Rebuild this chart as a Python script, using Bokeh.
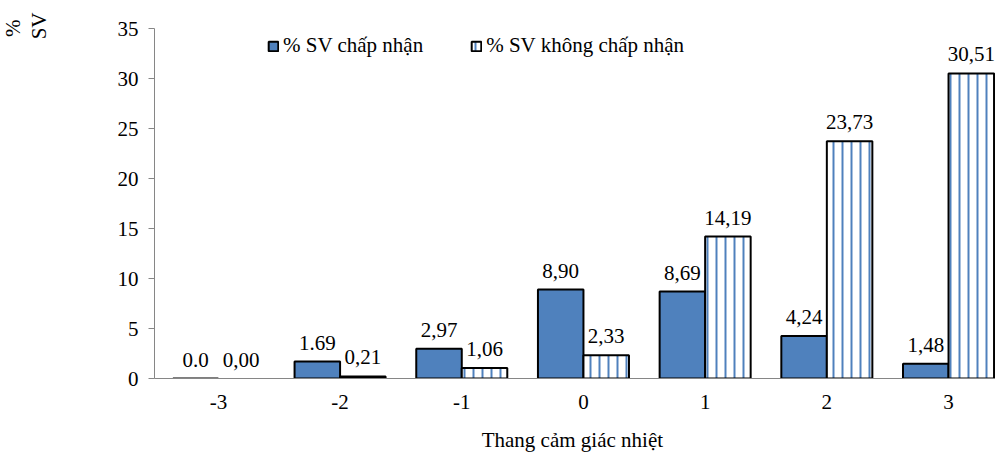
from bokeh.plotting import figure
from bokeh.models import (ColumnDataSource, FixedTicker, Range1d, Legend, LegendItem,
                          Title, CDSView, BooleanFilter)
from bokeh.transform import dodge
from bokeh.core.properties import value
from bokeh.embed import file_html
from bokeh.resources import INLINE

# ---- data ----
categories = [-3, -2, -1, 0, 1, 2, 3]
category_labels = ["-3", "-2", "-1", "0", "1", "2", "3"]
accepted = [0.0, 1.69, 2.97, 8.90, 8.69, 4.24, 1.48]
not_accepted = [0.00, 0.21, 1.06, 2.33, 14.19, 23.73, 30.51]
accepted_labels = ["0.0", "1.69", "2,97", "8,90", "8,69", "4,24", "1,48"]
not_accepted_labels = ["0,00", "0,21", "1,06", "2,33", "14,19", "23,73", "30,51"]
y_ticks = [0, 5, 10, 15, 20, 25, 30, 35]
series_names = ["% SV chấp nhận", "% SV không chấp nhận"]
x_title = "Thang cảm  giác nhiệt"
y_title_lines = ["%", "SV"]

FONT = "Liberation Serif"
BLUE = "#4F81BD"
GREY = "#868686"
FS = "21px"

src = ColumnDataSource(dict(cat=categories, acc=accepted, nacc=not_accepted,
                            acc_lab=accepted_labels, nacc_lab=not_accepted_labels))

p = figure(width=995, height=454, output_backend="svg", toolbar_location=None,
           x_range=Range1d(-3.525, 3.386), y_range=Range1d(0, 35),
           min_border_left=153, min_border_right=0, min_border_top=28, min_border_bottom=76)
p.outline_line_color = None
p.xgrid.visible = False
p.ygrid.visible = False
p.background_fill_color = "white"
p.border_fill_color = "white"

bw = 0.374
r1 = p.vbar(x=dodge("cat", -bw / 2, range=p.x_range), top="acc", width=bw, source=src,
            fill_color=BLUE, line_color="black", line_width=2)
view = CDSView(filter=BooleanFilter([v > 0 for v in not_accepted]))
r2 = p.vbar(x=dodge("cat", bw / 2, range=p.x_range), top="nacc", width=bw, source=src, view=view,
            fill_color="white", line_color="black", line_width=2,
            hatch_pattern="vertical_line", hatch_color=BLUE, hatch_scale=9, hatch_weight=2)

p.text(x=dodge("cat", -bw / 2, range=p.x_range), y="acc", text="acc_lab", source=src,
       text_font=value(FONT), text_font_size=FS, text_align="center",
       text_baseline="alphabetic", y_offset=-19, text_color="black")
p.text(x=dodge("cat", bw / 2, range=p.x_range), y="nacc", text="nacc_lab", source=src,
       text_font=value(FONT), text_font_size=FS, text_align="center",
       text_baseline="alphabetic", y_offset=-19, text_color="black")

# axes
p.yaxis.ticker = FixedTicker(ticks=y_ticks)
p.yaxis.minor_tick_line_color = None
p.yaxis.major_tick_out = 6
p.yaxis.major_tick_in = 0
p.yaxis.axis_line_color = GREY
p.yaxis.major_tick_line_color = GREY
p.yaxis.major_label_standoff = 10
p.yaxis.major_label_text_font = FONT
p.yaxis.major_label_text_font_size = FS
p.yaxis.major_label_text_color = "black"

p.xaxis.ticker = FixedTicker(ticks=categories)
p.xaxis.major_label_overrides = {c: l for c, l in zip(categories, category_labels)}
p.xaxis.minor_tick_line_color = None
p.xaxis.major_tick_line_color = None
p.xaxis.axis_line_color = GREY
p.xaxis.major_label_standoff = 10
p.xaxis.major_label_text_font = FONT
p.xaxis.major_label_text_font_size = FS
p.xaxis.major_label_text_color = "black"
p.xaxis.axis_label = x_title
p.xaxis.axis_label_text_font = FONT
p.xaxis.axis_label_text_font_size = FS
p.xaxis.axis_label_text_font_style = "normal"
p.xaxis.axis_label_text_color = "black"
p.xaxis.axis_label_standoff = 16

# y title at top-left: spacer panel, then the two rotated lines
p.add_layout(Title(text=" ", standoff=36, text_font=FONT, text_font_size=FS), "left")
for txt, off in zip(reversed(y_title_lines), [-16, -9]):
    p.add_layout(Title(text=txt, align="right", vertical_align="top", standoff=0, offset=off,
                       text_font=FONT, text_font_size=FS, text_font_style="normal",
                       text_color="black"), "left")

legend = Legend(items=[LegendItem(label=series_names[0], renderers=[r1]),
                       LegendItem(label=series_names[1], renderers=[r2])],
                orientation="horizontal", location=(113, 320), padding=0, margin=0,
                spacing=47, glyph_width=12, glyph_height=12, label_standoff=4,
                border_line_color=None, background_fill_alpha=0,
                label_text_font=FONT, label_text_font_size=FS, label_text_color="black")
p.add_layout(legend)

open("out.html", "w").write(file_html(p, INLINE))
